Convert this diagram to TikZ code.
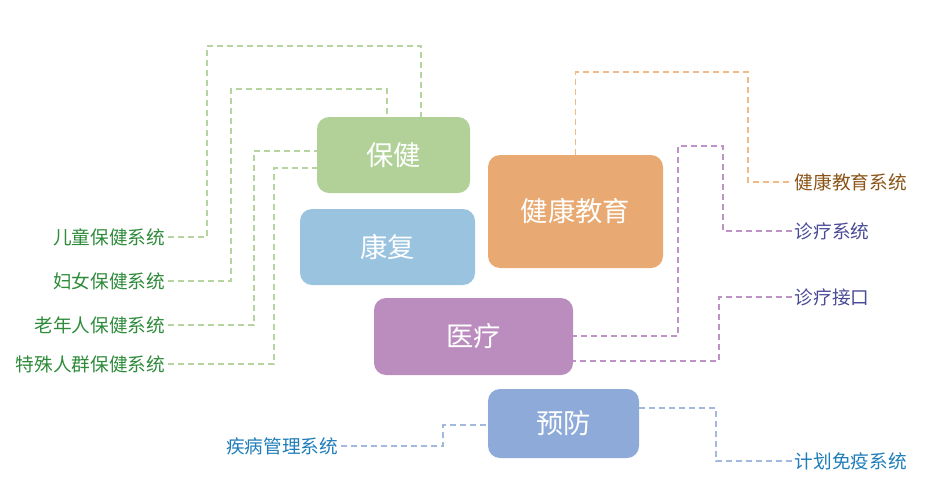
\documentclass[tikz,border=0pt]{standalone}
\usepackage{fontspec}
\setmainfont{Noto Sans CJK SC}
\usetikzlibrary{positioning}

\definecolor{bjgreen}{HTML}{B1D198}
\definecolor{kfblue}{HTML}{9AC3E0}
\definecolor{jyorange}{HTML}{E8AA72}
\definecolor{ylpurple}{HTML}{BB8CBE}
\definecolor{yfblue}{HTML}{8DAAD9}
\definecolor{gtext}{HTML}{2E8B3A}
\definecolor{otext}{HTML}{8A5418}
\definecolor{ptext}{HTML}{4A4A96}
\definecolor{btext}{HTML}{1F7DBA}
\definecolor{gline}{HTML}{B5D4A0}
\definecolor{oline}{HTML}{F0B987}
\definecolor{pline}{HTML}{BE94C6}
\definecolor{bline}{HTML}{A2B8DE}

\begin{document}
\begin{tikzpicture}
[x=0.75pt,y=-0.75pt,%
  topic/.style={rounded corners=9pt,text=white,font=\fontsize{20.5}{24}\selectfont,inner sep=0pt},
  sub/.style={font=\fontsize{14}{17}\selectfont,inner sep=2pt},
  link/.style={dash pattern=on 4.5pt off 3pt,line width=0.8pt}]
\useasboundingbox (0,0) rectangle (937,496);
%% nodes or topics
\node[topic,fill=bjgreen,minimum width=114.75pt,minimum height=57pt] (baojian) at (393.5,155) {保健};
\node[topic,fill=kfblue,minimum width=131.25pt,minimum height=57pt] (kangfu) at (387.5,247) {康复};
\node[topic,fill=jyorange,minimum width=131.25pt,minimum height=84.75pt] (jiaoyu) at (575.5,211.5) {健康教育};
\node[topic,fill=ylpurple,minimum width=149.25pt,minimum height=57.75pt] (yiliao) at (473.5,336.5) {医疗};
\node[topic,fill=yfblue,minimum width=113.25pt,minimum height=51.75pt] (yufang) at (563.5,423.5) {预防};
%% nodes or systems
\node[sub,text=gtext,anchor=east] (ertong) at (168,237) {儿童保健系统};
\node[sub,text=gtext,anchor=east] (funv) at (168,281) {妇女保健系统};
\node[sub,text=gtext,anchor=east] (laonian) at (168,325) {老年人保健系统};
\node[sub,text=gtext,anchor=east] (teshu) at (168,364) {特殊人群保健系统};
\node[sub,text=otext,anchor=west] (jyxt) at (792,182) {健康教育系统};
\node[sub,text=ptext,anchor=west] (zlxt) at (792,231) {诊疗系统};
\node[sub,text=ptext,anchor=west] (zljk) at (792,297) {诊疗接口};
\node[sub,text=btext,anchor=east] (jbgl) at (341,446) {疾病管理系统};
\node[sub,text=btext,anchor=west] (jhmy) at (792,461) {计划免疫系统};
%% links
\draw[link,gline] (ertong.east) -| (207,46) -| (421,0 |- baojian.north);
\draw[link,gline] (funv.east) -| (231,89) -| (387,0 |- baojian.north);
\draw[link,gline] (laonian.east) -| (254,151) -- (baojian.west |- 0,151);
\draw[link,gline] (teshu.east) -| (274,168) -- (baojian.west |- 0,168);
\draw[link,oline] (jiaoyu.north) |- (748,72) |- (jyxt.west);
\draw[link,pline] (zlxt.west) -| (723,146) -| (678,336) -- (yiliao.east |- 0,336);
\draw[link,pline] (zljk.west) -| (719,361) -- (yiliao.east |- 0,361);
\draw[link,bline] (jbgl.east) -| (443,425) -- (yufang.west |- 0,425);
\draw[link,bline] (jhmy.west) -| (716,408) -- (yufang.east |- 0,408);
\end{tikzpicture}
\end{document}
